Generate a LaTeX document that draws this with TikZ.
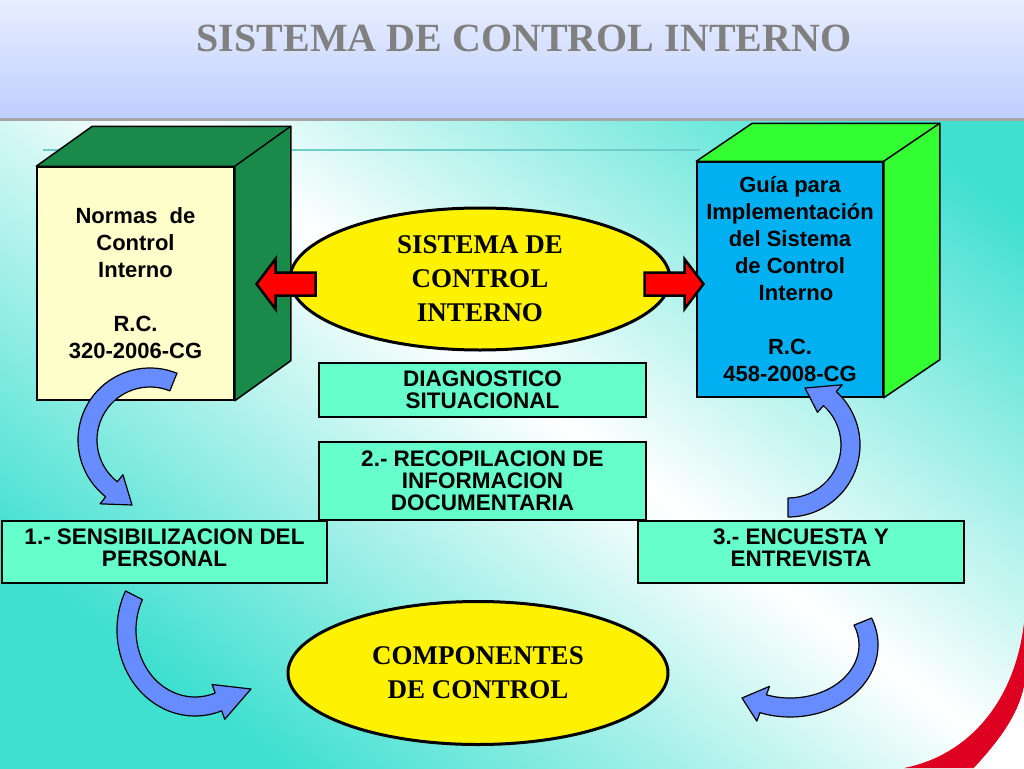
\documentclass[tikz,border=0pt]{standalone}
\usepackage{fontspec}
\setmainfont{Liberation Serif}
\setsansfont{Liberation Sans}
\usetikzlibrary{calc,shapes.geometric}

\definecolor{bgcyan}{RGB}{64,224,208}
\definecolor{bandtop}{RGB}{232,238,255}
\definecolor{bandbot}{RGB}{190,206,255}
\definecolor{titlegray}{RGB}{128,128,128}
\definecolor{ruleline}{RGB}{110,205,200}
\definecolor{creamface}{RGB}{255,255,204}
\definecolor{darkgreen}{RGB}{26,138,74}
\definecolor{skyface}{RGB}{0,176,240}
\definecolor{limegreen}{RGB}{51,255,51}
\definecolor{aqua}{RGB}{102,255,204}
\definecolor{arrowblue}{RGB}{102,140,255}
\definecolor{swoosh}{RGB}{222,0,32}

\begin{document}
\begin{tikzpicture}[x=1pt,y=-1pt,
    face/.style={draw,line width=1.5,inner sep=0pt,align=center,font=\sffamily\bfseries\fontsize{22}{27}\selectfont},
    oval/.style={ellipse,draw,line width=3,fill=yellow,inner sep=0pt,minimum width=380,minimum height=142,align=center,font=\bfseries\fontsize{27}{34}\selectfont},
    stage/.style={rectangle,draw,line width=2.5,fill=aqua,inner sep=0pt,minimum width=327,align=center,font=\sffamily\bfseries\fontsize{22.5}{22}\selectfont},
    redarr/.style={fill=red,draw=black,line width=2.5},
    bluearr/.style={fill=arrowblue,draw=black,line width=1.2,line join=round}]

    \useasboundingbox (0,0) rectangle (1024,768);
    \shade[top color=bgcyan,bottom color=bgcyan,middle color=white,shading angle=-37] (0,0) rectangle (1024,768);
    \fill[swoosh] (1024,623) .. controls (1015,700) and (970,755) .. (904,768) -- (974,768) .. controls (1000,740) and (1018,715) .. (1024,687) -- cycle;
    \fill[white] (1024,687) .. controls (1018,715) and (1000,740) .. (974,768) -- (1024,768) -- cycle;

    \shade[top color=bandtop,bottom color=bandbot] (0,0) rectangle (1024,118);
    \fill[black!35] (0,118) rectangle (1024,121);
    \node[font=\bfseries\fontsize{40}{40}\selectfont,text=titlegray] (title) at (524,38) {SISTEMA DE CONTROL INTERNO};

    \draw[ruleline,line width=1.5] (43,150) -- (700,150);

    % cubes
    \def\cubeback#1#2#3{
      \draw[fill=#2,line width=1.5,line join=round] (#1.north west) -- ++(#3) -- ($(#1.north east)+(#3)$)
        -- ($(#1.south east)+(#3)$) -- (#1.south east) -- (#1.north east) -- cycle;
      \draw[line width=1.5] (#1.north east) -- ++(#3);
    }
    \node[face,fill=creamface,minimum width=197,minimum height=233] (normas) at (135.5,283.5)
      {Normas\ \ de\\Control\\Interno\\[27pt]R.C.\\320-2006-CG};
    \node[face,fill=skyface,minimum width=186,minimum height=235] (guia) at (790,279.5)
      {Guía para\\Implementación\\del Sistema\\de Control\\\hspace*{12pt}Interno\\[27pt]R.C.\\458-2008-CG};
    \cubeback{normas}{darkgreen}{56,-40}
    \cubeback{guia}{limegreen}{56,-38}

    \node[oval] (sci) at (480,279) {SISTEMA DE\\CONTROL\\INTERNO};
    \node[oval,minimum height=143] (comp) at (478,673) {COMPONENTES\\DE CONTROL};

    \foreach \side/\flip in {east/1,west/-1}
      \draw[redarr,shift={(sci.\side)},xscale=\flip] (-27,-6.5) -- (13,-6.5) -- (13,-20) -- (32,5)
        -- (13,30) -- (13,16.5) -- (-27,16.5) -- cycle;

    \node[stage,minimum height=54] (diag) at (482.5,390) {DIAGNOSTICO\\SITUACIONAL};
    \node[stage,minimum height=78] (recop) at (482.5,481) {2.- RECOPILACION DE\\INFORMACION\\DOCUMENTARIA};
    \node[stage,minimum width=325,minimum height=62] (sens) at (164.5,552) {1.- SENSIBILIZACION DEL\\PERSONAL\\[-14pt]};
    \node[stage,minimum width=326,minimum height=62] (encu) at (801,552) {3.- ENCUESTA Y\\ENTREVISTA\\[-14pt]};

    % curved arrows: center, x radius, y radius, start, end, tip
    \def\bluearrow#1#2#3#4#5#6{
      \pgfmathsetmacro{\ax}{#2}
      \pgfmathsetmacro{\ay}{#3}
      \pgfmathsetmacro{\bx}{#2-19}
      \pgfmathsetmacro{\by}{#3-19}
      \pgfmathsetmacro{\ox}{#2+9}
      \pgfmathsetmacro{\oy}{#3+9}
      \pgfmathsetmacro{\ix}{#2-28}
      \pgfmathsetmacro{\iy}{#3-28}
      \draw[bluearr] ($#1+(#4:\ax+0 and \ay)$) arc[start angle=#4,end angle=#5,x radius=\ax,y radius=\ay]
        -- ($#1+(#5:\ox+0 and \oy)$) -- #6 -- ($#1+(#5:\ix+0 and \iy)$) -- ($#1+(#5:\bx+0 and \by)$)
        arc[start angle=#5,end angle=#4,x radius=\bx,y radius=\by] -- cycle;
    }
    \bluearrow{(150,440)}{72}{72}{-68}{-232}{(132,505)}
    \bluearrow{(788,445)}{72}{72}{90}{-48}{(805,388)}
    \bluearrow{(195,630)}{78}{86}{-153}{-290}{(251,689)}
    \bluearrow{(790,645)}{88}{72}{-22}{110}{(742,698)}

  \end{tikzpicture}
\end{document}
